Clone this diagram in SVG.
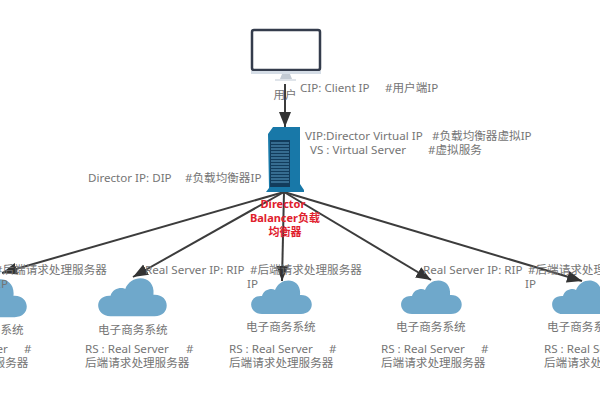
<svg xmlns="http://www.w3.org/2000/svg" width="600" height="400" viewBox="0 0 600 400">
<style>
text{font-family:"Noto Sans","Noto Sans CJK SC",sans-serif;font-size:11.6px;fill:#757575}
.c{text-anchor:middle}
.red{fill:#e0202c;font-weight:bold;font-size:11px}
.cl{fill:#6fa8cb}
.ln{stroke:#3c3c3c;stroke-width:2;fill:none;marker-end:url(#ah)}
</style>
<defs>
<marker id="ah" markerUnits="userSpaceOnUse" markerWidth="16" markerHeight="14" refX="15" refY="6" orient="auto"><path d="M0 0L15 6L0 12z" fill="#333"/></marker>
<!-- cloud glyph, 60 wide and 34 high, origin at its centre -->
<path id="cloud" d="M-19 17C-33 17-34-2-19-1C-17-8-9-9-6-7C-1-21 21-20 19-2C34-3 35 17 20 17z"/>
</defs>
<rect width="600" height="400" fill="#fff"/>
<g id="connectors">
<line class="ln" x1="285" y1="84" x2="285" y2="127"/>
<line class="ln" x1="284" y1="192" x2="2" y2="273"/>
<line class="ln" x1="284" y1="192" x2="133" y2="277"/>
<line class="ln" x1="284" y1="192" x2="282" y2="281"/>
<line class="ln" x1="284" y1="192" x2="431" y2="280"/>
<line class="ln" x1="284" y1="192" x2="582" y2="281"/>
</g>
<g id="client">
<rect x="252" y="30" width="68" height="40" rx="2" fill="#fff" stroke="#343c4c" stroke-width="2.5"/>
<rect x="251" y="71" width="70" height="3" fill="#d5dde6"/>
<path d="M282 74h8l2 5h-12z" fill="#c3cbd4"/>
<rect x="275" y="79" width="21" height="2" fill="#dfe4ea"/>
<text class="c" x="285" y="99">用户</text>
<text x="300" y="92">CIP: Client IP</text>
<text x="385" y="92">#用户端IP</text>
</g>
<g id="director">
<path d="M268 134L273 127H300L300 184L304 190V192H266L269 188z" fill="#1878a8"/>
<rect x="270" y="140" width="20" height="47" fill="#123c5c"/>
<path d="M271 143h18M271 146h18M271 149h18M271 152h18M271 155h18M271 158h18M271 161h18M271 164h18M271 167h18M271 170h18M271 173h18M271 176h18M271 179h18M271 182h18" stroke="#5a9cc4" stroke-width="1"/>
<text x="305" y="140">VIP:Director Virtual IP</text>
<text x="432" y="140">#负载均衡器虚拟IP</text>
<text x="310" y="154">VS : Virtual Server</text>
<text x="428" y="154">#虚拟服务</text>
<text x="88" y="182">Director IP: DIP</text>
<text x="185" y="182">#负载均衡器IP</text>
<text class="c red" x="283" y="208">Director</text>
<text class="c red" x="285" y="222">Balancer负载</text>
<text class="c red" x="285" y="236">均衡器</text>
</g>
<g id="server-1">
<use href="#cloud" class="cl" transform="translate(-8 298) scale(1.13)"/>
<text x="-5" y="274">#后端请求处理服务器</text>
<text x="-3" y="288">IP</text>
<text x="-46" y="334">电子商务系统</text>
<text x="-76" y="353">RS : Real Server</text>
<text x="24" y="353">#</text>
<text x="-76" y="367">后端请求处理服务器</text>
</g>
<g id="server-2">
<use href="#cloud" class="cl" transform="translate(132 297) scale(1.13)"/>
<text x="145" y="274">Real Server IP: RIP</text>
<text x="250" y="274">#后端请求处理服务器</text>
<text x="98" y="334">电子商务系统</text>
<text x="85" y="353">RS : Real Server</text>
<text x="186" y="353">#</text>
<text x="85" y="367">后端请求处理服务器</text>
</g>
<g id="server-3">
<use href="#cloud" class="cl" transform="translate(281 297)"/>
<text x="247" y="288">IP</text>
<text x="246" y="331">电子商务系统</text>
<text x="229" y="353">RS : Real Server</text>
<text x="329" y="353">#</text>
<text x="229" y="367">后端请求处理服务器</text>
</g>
<g id="server-4">
<use href="#cloud" class="cl" transform="translate(431 297)"/>
<text x="423" y="274">Real Server IP: RIP</text>
<text x="528" y="274">#后端请求处理服务器</text>
<text x="525" y="288">IP</text>
<text x="396" y="331">电子商务系统</text>
<text x="381" y="353">RS : Real Server</text>
<text x="481" y="353">#</text>
<text x="381" y="367">后端请求处理服务器</text>
</g>
<g id="server-5">
<use href="#cloud" class="cl" transform="translate(582 297)"/>
<text x="547" y="331">电子商务系统</text>
<text x="544" y="353">RS : Real Server</text>
<text x="544" y="367">后端请求处理服务器</text>
</g>
</svg>
